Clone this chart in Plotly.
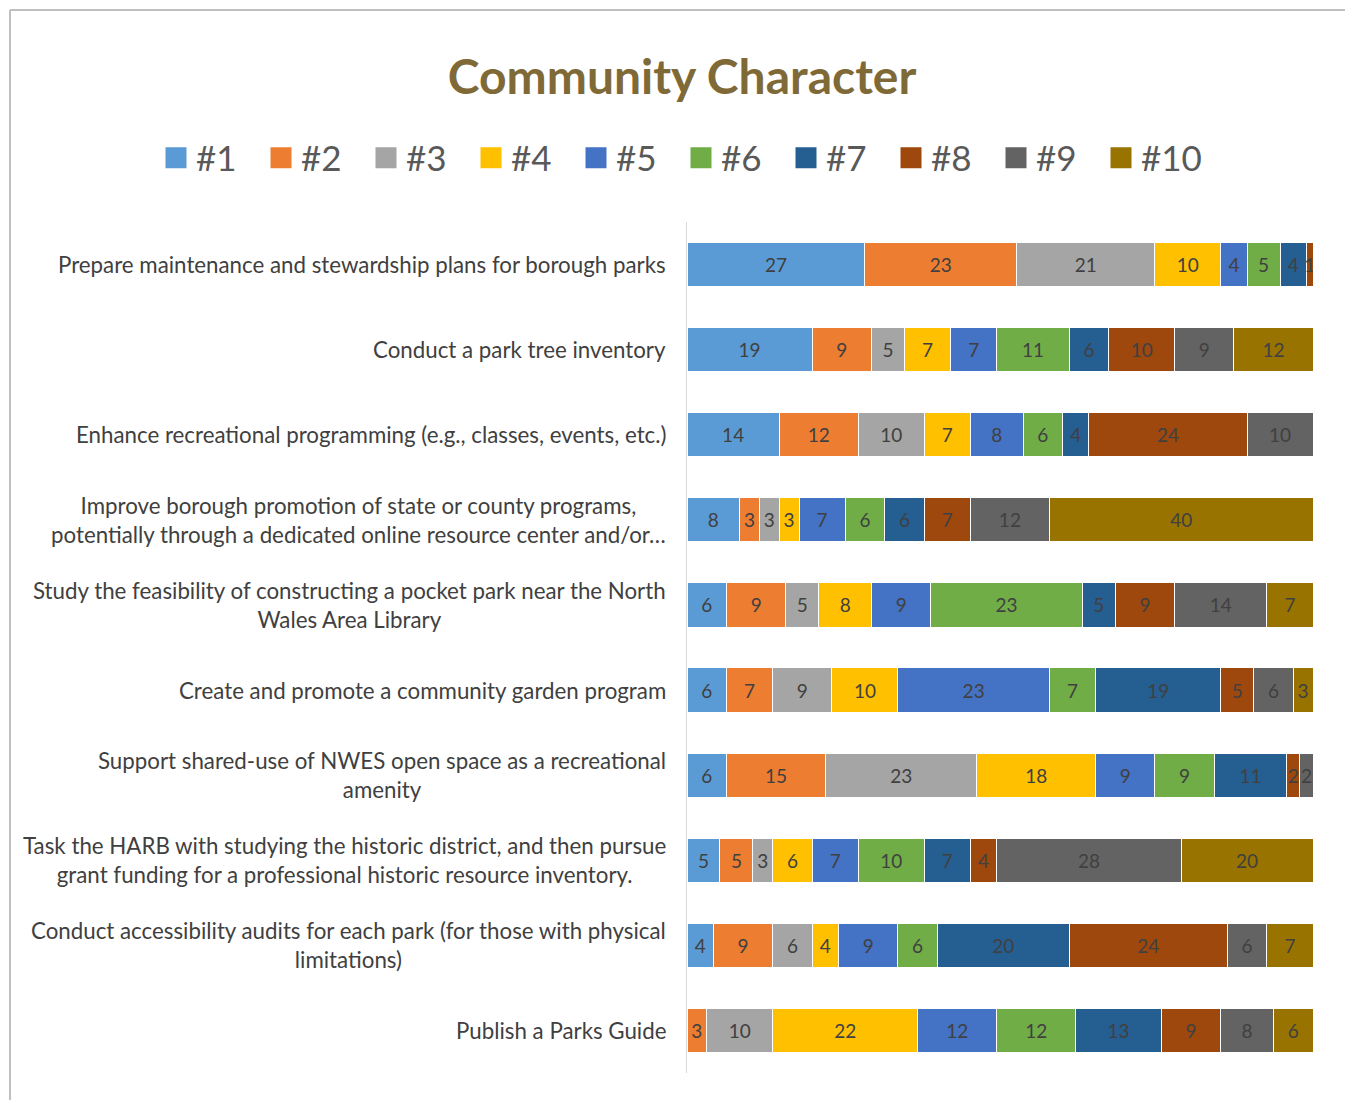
import plotly.graph_objects as go

categories = [
    "Prepare maintenance and stewardship plans for borough parks",
    "Conduct a park tree inventory",
    "Enhance recreational programming (e.g., classes, events, etc.)",
    "Improve borough promotion of state or county programs,<br>potentially through a dedicated online resource center and/or…",
    "Study the feasibility of constructing a pocket park near the North<br>Wales Area Library",
    "Create and promote a community garden program",
    "Support shared-use of NWES open space as a recreational<br>amenity",
    "Task the HARB with studying the historic district, and then pursue<br>grant funding for a professional historic resource inventory.",
    "Conduct accessibility audits for each park (for those with physical<br>limitations)",
    "Publish a Parks Guide",
]

series_names = ["#1", "#2", "#3", "#4", "#5", "#6", "#7", "#8", "#9", "#10"]

s1 = [27, 19, 14, 8, 6, 6, 6, 5, 4, 0]
s2 = [23, 9, 12, 3, 9, 7, 15, 5, 9, 3]
s3 = [21, 5, 10, 3, 5, 9, 23, 3, 6, 10]
s4 = [10, 7, 7, 3, 8, 10, 18, 6, 4, 22]
s5 = [4, 7, 8, 7, 9, 23, 9, 7, 9, 12]
s6 = [5, 11, 6, 6, 23, 7, 9, 10, 6, 12]
s7 = [4, 6, 4, 6, 5, 19, 11, 7, 20, 13]
s8 = [1, 10, 24, 7, 9, 5, 2, 4, 24, 9]
s9 = [0, 9, 10, 12, 14, 6, 2, 28, 6, 8]
s10 = [0, 12, 0, 40, 7, 3, 0, 20, 7, 6]

series_values = [s1, s2, s3, s4, s5, s6, s7, s8, s9, s10]

colors = ["#5B9BD5", "#ED7D31", "#A5A5A5", "#FFC000", "#4472C4",
          "#70AD47", "#255E91", "#9E480E", "#636363", "#997300"]

# page body offset (default 8px html margin)
OFF = 8
L, T, PW, PH = 687 - OFF, 222 - OFF, 626, 851


def px_x(x):
    return (x - OFF - L) / PW


def px_y(y):
    return (T + PH - (y - OFF)) / PH


fig = go.Figure()
for name, vals, col in zip(series_names, series_values, colors):
    fig.add_trace(go.Bar(
        y=categories, x=vals, name=name, orientation="h",
        marker=dict(color=col, line=dict(color="white", width=1)),
        text=[str(v) if v else "" for v in vals],
        textposition="inside", insidetextanchor="middle",
        constraintext="none",
        textfont=dict(family="Lato", size=19, color="#404040"),
        hoverinfo="x+name", showlegend=False, legendgroup=name,
    ))

# legend entries (larger square swatches)
for name, col in zip(series_names, colors):
    fig.add_trace(go.Scatter(
        x=[None], y=[None], mode="markers", name=name, legendgroup=name,
        marker=dict(symbol="square", size=16, color=col,
                    line=dict(color=col, width=5)),
        showlegend=True,
    ))

for c in categories:
    fig.add_annotation(
        x=0, xref="paper", y=c, yref="y", text=c, showarrow=False,
        xanchor="right", yanchor="middle", align="center", xshift=-19,
        font=dict(family="Lato", size=22.3, color="#404040"),
    )

fig.update_layout(
    width=1353, height=1100,
    barmode="stack", bargap=0.48,
    paper_bgcolor="white", plot_bgcolor="white",
    margin=dict(l=L, r=1353 - L - PW, t=T, b=1100 - T - PH, autoexpand=False),
    title=dict(text="<b>Community Character</b>", x=(682 - OFF) / 1353,
               xref="container", xanchor="center", y=0.937, yref="container",
               yanchor="middle",
               font=dict(family="Lato", size=48, color="#7F6A37")),
    legend=dict(orientation="h", xref="paper", yref="paper",
                x=px_x(156), xanchor="left",
                y=px_y(158), yanchor="middle",
                font=dict(family="Lato", size=35, color="#595959"),
                traceorder="normal", entrywidth=60, entrywidthmode="pixels",
                itemsizing="trace"),
    xaxis=dict(range=[0, 95], visible=False, fixedrange=True),
    yaxis=dict(autorange="reversed", showticklabels=False, showline=True,
               linecolor="#D9D9D9", linewidth=1, showgrid=False,
               ticks="", zeroline=False),
    showlegend=True,
    shapes=[
        dict(type="line", xref="paper", yref="paper",
             x0=px_x(10), x1=px_x(10), y0=px_y(10), y1=px_y(1115),
             line=dict(color="#BFBFBF", width=2)),
        dict(type="line", xref="paper", yref="paper",
             x0=px_x(10), x1=px_x(1365), y0=px_y(10), y1=px_y(10),
             line=dict(color="#BFBFBF", width=2)),
    ],
)

fig.write_html("out.html")
